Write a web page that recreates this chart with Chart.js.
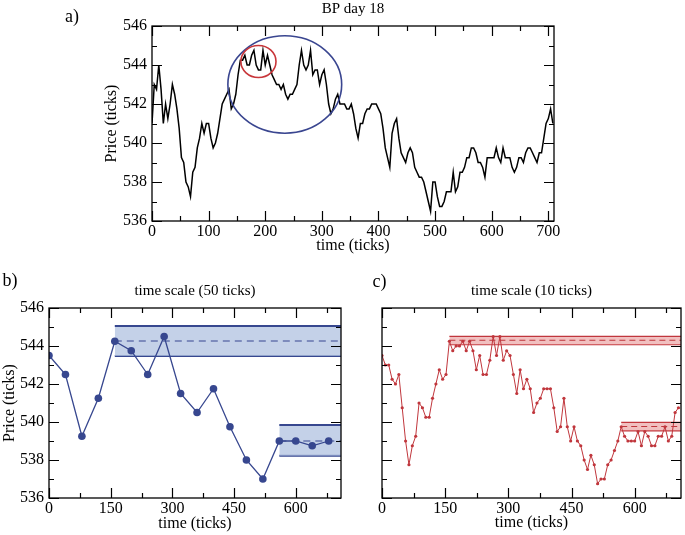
<!DOCTYPE html>
<html>
<head>
<meta charset="utf-8">
<script src="https://cdn.jsdelivr.net/npm/chart.js@4.4.1/dist/chart.umd.min.js"></script>
<style>
  body { margin: 0; background: #fff; }
  #wrap { position: relative; width: 685px; height: 535px; overflow: hidden; }
  canvas { position: absolute; }
</style>
</head>
<body>
<div id="wrap">
  <canvas id="chartA" width="685" height="256" style="left:0;top:0"></canvas>
  <canvas id="chartB" width="352" height="280" style="left:0;top:255px"></canvas>
  <canvas id="chartC" width="340" height="280" style="left:345px;top:255px"></canvas>
</div>
<script>
// ---- data ----
// a) raw price, read every 4 ticks
const A_STEP = 4;
const aPrice = [
    541.0, 543.0, 542.75, 544.0, 542.75, 541.0, 542.0, 541.25, 542.0, 543.0,
    542.5, 541.75, 540.75, 539.25, 539.0, 538.0, 537.75, 537.25, 538.5, 538.75,
    539.75, 540.25, 541.0, 540.5, 541.0, 541.0, 540.25, 539.75, 540.0, 540.5,
    541.25, 542.0, 542.25, 542.5, 542.75, 541.75, 542.0, 542.5, 543.5, 544.25,
    544.25, 544.5, 544.0, 544.0, 544.5, 544.75, 544.0, 543.75, 543.75, 544.75,
    544.0, 544.5, 544.0, 543.5, 543.25, 543.0, 543.0, 542.75, 543.0, 542.5,
    542.25, 542.5, 542.5, 542.75, 543.0, 544.0, 544.75, 544.0, 543.75, 544.0,
    544.75, 543.5, 543.75, 543.75, 543.0, 543.5, 543.75, 543.0, 542.0, 541.5,
    541.75, 542.25, 542.5, 542.0, 542.0, 542.0, 541.75, 541.75, 542.0, 541.5,
    540.75, 540.25, 541.0, 541.0, 541.5, 541.75, 541.75, 542.0, 542.0, 542.0,
    541.75, 541.5, 540.75, 539.75, 539.25, 538.75, 540.5, 541.0, 541.25, 540.25,
    539.5, 539.25, 539.0, 539.5, 539.75, 539.5, 538.75, 538.5, 538.25, 538.25,
    538.0, 537.5, 537.0, 536.5, 538.0, 538.0, 537.25, 536.75, 536.75, 537.0,
    537.5, 537.5, 537.5, 538.5, 537.5, 537.75, 538.5, 538.5, 538.75, 539.25,
    539.25, 539.75, 539.75, 539.5, 539.0, 539.0, 538.75, 538.25, 539.25, 539.25,
    539.25, 539.25, 539.75, 539.25, 539.0, 539.75, 539.25, 539.25, 539.25, 538.75,
    538.5, 538.75, 539.25, 539.25, 539.0, 539.5, 539.75, 539.75, 539.5, 539.25,
    539.0, 539.5, 539.5, 540.25, 541.0, 541.25, 541.75, 541.0
];

// b) coarse sampling
const B_STEP = 40;
const bPrice = [543.5, 542.5, 539.25, 541.25, 544.25, 543.75, 542.5, 544.5, 541.5,
                540.5, 541.75, 539.75, 538.0, 537.0, 539.0, 539.0, 538.75, 539.0];
const bBandStart = [160, 560];
const bBandLow   = [543.47, 538.23];
const bBandMid   = [544.26, 539.0];
const bBandHigh  = [545.05, 539.84];

// c) fine sampling
const C_STEP = 8;
const cPrice = [
    543.5, 543.0, 543.0, 542.25, 542.0, 542.5, 540.75, 539.0, 537.75, 538.75,
    539.25, 541.0, 540.75, 540.25, 540.25, 541.25, 542.0, 542.75, 542.25, 542.5,
    544.25, 543.75, 544.0, 544.0, 544.25, 543.75, 544.25, 543.75, 542.75, 543.5,
    542.5, 542.5, 543.25, 544.5, 543.5, 544.5, 543.25, 543.75, 543.5, 542.5,
    541.5, 542.75, 541.75, 542.25, 541.75, 540.5, 541.0, 541.25, 541.75, 541.75,
    541.75, 540.75, 539.5, 539.75, 541.25, 539.75, 539.0, 539.75, 539.0, 538.75,
    538.0, 537.5, 538.25, 537.75, 536.75, 537.0, 537.0, 537.75, 538.0, 538.5,
    539.0, 539.75, 539.25, 539.0, 539.0, 539.0, 539.5, 538.75, 539.5, 539.25,
    538.75, 538.75, 539.25, 539.25, 539.75, 539.0, 539.25, 540.5, 540.75
];
const cBandStart = [160, 568];
const cBandLow   = [544.07, 539.54];
const cBandMid   = [544.3, 539.76];
const cBandHigh  = [544.51, 539.98];

// ellipses marked on a)
const ellCenterT = [234.5, 188];
const ellCenterP = [543.0, 544.18];
const ellRadT    = [100.5, 31];
const ellRadP    = [2.5, 0.82];
const ellColor   = ['#3a4690', '#c8363a'];

// axis ticks
const T_MAX = 710;
const aXMajor = [0, 100, 200, 300, 400, 500, 600, 700];
const aXMinor = [50, 150, 250, 350, 450, 550, 650];
const bcXMajor = [0, 150, 300, 450, 600];
const bcXMinor = [75, 225, 375, 525, 675];
const yMajor = [536, 538, 540, 542, 544, 546];
const yMinor = [537, 539, 541, 543, 545];

Chart.defaults.font.family = "'Liberation Serif', 'Times New Roman', serif";
Chart.defaults.color = '#000';

// frame, inward ticks on all four sides, ellipses and panel texts
const decor = {
    id: 'decor',
    afterDatasetsDraw(chart, args, o) {
        const { ctx, chartArea: a, scales: { x, y } } = chart;
        ctx.save();
        (o.ellipses || []).forEach(e => {
            const cx = x.getPixelForValue(e.t), cy = y.getPixelForValue(e.p);
            const rx = x.getPixelForValue(e.t + e.rt) - cx;
            const ry = cy - y.getPixelForValue(e.p + e.rp);
            ctx.beginPath();
            ctx.strokeStyle = e.color;
            ctx.lineWidth = 1.6;
            ctx.ellipse(cx, cy, rx, ry, 0, 0, Math.PI * 2);
            ctx.stroke();
        });
        ctx.strokeStyle = '#000';
        ctx.lineWidth = 1.3;
        ctx.strokeRect(a.left, a.top, a.right - a.left, a.bottom - a.top);
        ctx.beginPath();
        const tickX = (vals, len) => vals.forEach(v => {
            const p = Math.round(x.getPixelForValue(v)) + 0.5;
            ctx.moveTo(p, a.bottom); ctx.lineTo(p, a.bottom - len);
            ctx.moveTo(p, a.top); ctx.lineTo(p, a.top + len);
        });
        const tickY = (vals, len) => vals.forEach(v => {
            const p = Math.round(y.getPixelForValue(v)) + 0.5;
            ctx.moveTo(a.left, p); ctx.lineTo(a.left + len, p);
            ctx.moveTo(a.right, p); ctx.lineTo(a.right - len, p);
        });
        tickX(o.xMajor, 10); tickX(o.xMinor, 5);
        tickY(yMajor, 10); tickY(yMinor, 5);
        ctx.lineWidth = 1.2;
        ctx.stroke();
        ctx.restore();
    },
    afterDraw(chart, args, o) {
        const { ctx, chartArea: a } = chart;
        ctx.save();
        ctx.fillStyle = '#000';
        ctx.textAlign = 'center';
        ctx.textBaseline = 'middle';
        ctx.font = "15px 'Liberation Serif', serif";
        ctx.fillText(o.title, (a.left + a.right) / 2, o.titleY);
        ctx.font = "18px 'Liberation Serif', serif";
        ctx.fillText(o.label, o.labelX, o.labelY);
        ctx.restore();
    }
};

function xScale(ticksArr, height, pad, titlePad) {
    return {
        type: 'linear', min: 0, max: T_MAX,
        afterBuildTicks: s => { s.ticks = ticksArr.map(v => ({ value: v })); },
        afterFit: s => { s.height = height; },
        grid: { display: false, drawTicks: false },
        border: { display: false },
        ticks: { font: { size: 16 }, padding: pad, maxRotation: 0, autoSkip: false },
        title: { display: true, text: 'time (ticks)', font: { size: 16 }, padding: { top: 0, bottom: titlePad } }
    };
}

function yScale(width, labels, titlePad) {
    return {
        type: 'linear', min: 536, max: 546,
        afterBuildTicks: s => { s.ticks = yMajor.map(v => ({ value: v })); },
        afterFit: s => { s.width = width; },
        grid: { display: false, drawTicks: false },
        border: { display: false },
        ticks: { display: labels, font: { size: 16 }, padding: 5 },
        title: { display: labels, text: 'Price (ticks)', font: { size: 16 }, padding: { top: titlePad, bottom: 0 } }
    };
}

function bandSets(starts, lows, mids, highs, col, fillCol, edgeW, dash) {
    const sets = [];
    starts.forEach((s, i) => {
        sets.push({ data: [{ x: s, y: highs[i] }, { x: T_MAX, y: highs[i] }], borderColor: col, borderWidth: edgeW,
                    pointRadius: 0, fill: { value: lows[i] }, backgroundColor: fillCol, order: 2 });
        sets.push({ data: [{ x: s, y: lows[i] }, { x: T_MAX, y: lows[i] }], borderColor: col, borderWidth: edgeW,
                    pointRadius: 0, fill: false, order: 2 });
        sets.push({ data: [{ x: s, y: mids[i] }, { x: T_MAX, y: mids[i] }], borderColor: col, borderWidth: 1.1,
                    borderDash: dash, pointRadius: 0, fill: false, order: 1 });
    });
    return sets;
}

function baseOptions(padding, scales, decorOpts) {
    return {
        responsive: false,
        animation: false,
        devicePixelRatio: 1,
        layout: { padding: padding },
        scales: scales,
        plugins: { legend: { display: false }, tooltip: { enabled: false }, decor: decorOpts }
    };
}

// a) BP day 18
new Chart(document.getElementById('chartA'), {
    type: 'line',
    data: {
        datasets: [{
            data: aPrice.map((v, i) => ({ x: i * A_STEP, y: v })),
            borderColor: '#000', borderWidth: 1.5, pointRadius: 0, fill: false, tension: 0
        }]
    },
    options: baseOptions(
        { left: 0, right: 131, top: 26, bottom: 0 },
        { x: xScale(aXMajor, 35, 1, 1), y: yScale(152, true, 102) },
        {
            xMajor: aXMajor, xMinor: aXMinor,
            title: 'BP day 18', titleY: 9, label: 'a)', labelX: 72, labelY: 17,
            ellipses: ellCenterT.map((t, i) => ({ t: t, p: ellCenterP[i], rt: ellRadT[i], rp: ellRadP[i], color: ellColor[i] }))
        }
    ),
    plugins: [decor]
});

// b) time scale (50 ticks)
const bBlue = '#37478f';
new Chart(document.getElementById('chartB'), {
    type: 'line',
    data: {
        datasets: [{
            data: bPrice.map((v, i) => ({ x: i * B_STEP, y: v })),
            borderColor: bBlue, borderWidth: 1.3, pointRadius: 3.8, pointBackgroundColor: bBlue,
            pointBorderWidth: 0, fill: false, tension: 0, order: 0
        }].concat(bandSets(bBandStart, bBandLow, bBandMid, bBandHigh, bBlue, 'rgba(176,194,224,0.75)', 2, [7, 5]))
    },
    options: baseOptions(
        { left: 0, right: 11, top: 53, bottom: 0 },
        { x: xScale(bcXMajor, 37, 1, 2), y: yScale(49, true, 0) },
        { xMajor: bcXMajor, xMinor: bcXMinor, title: 'time scale (50 ticks)', titleY: 36, label: 'b)', labelX: 10, labelY: 26 }
    ),
    plugins: [decor]
});

// c) time scale (10 ticks)
const cRed = '#c0363c';
new Chart(document.getElementById('chartC'), {
    type: 'line',
    data: {
        datasets: [{
            data: cPrice.map((v, i) => ({ x: i * C_STEP, y: v })),
            borderColor: cRed, borderWidth: 1, pointRadius: 1.6, pointBackgroundColor: cRed,
            pointBorderWidth: 0, fill: false, tension: 0, order: 0
        }].concat(bandSets(cBandStart, cBandLow, cBandMid, cBandHigh, cRed, 'rgba(232,150,150,0.6)', 1.3, [6, 4]))
    },
    options: baseOptions(
        { left: 0, right: 3, top: 53, bottom: 0 },
        { x: xScale(bcXMajor, 37, 1, 3), y: yScale(37, false, 0) },
        { xMajor: bcXMajor, xMinor: bcXMinor, title: 'time scale (10 ticks)', titleY: 36, label: 'c)', labelX: 34.5, labelY: 27.5 }
    ),
    plugins: [decor]
});
</script>
</body>
</html>
